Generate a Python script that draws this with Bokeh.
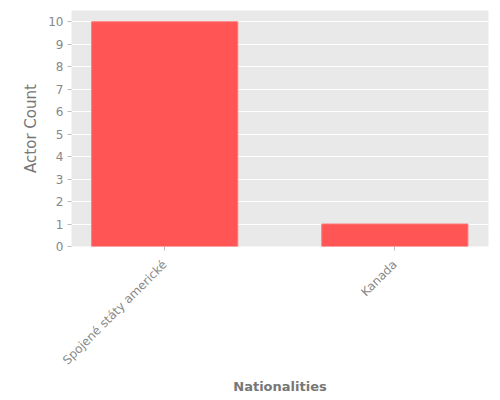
import math
from bokeh.plotting import figure
from bokeh.models import Range1d, FixedTicker
from bokeh.embed import file_html
from bokeh.resources import INLINE

nationalities = ["Spojené státy americké", "Kanada"]
actor_counts = [10, 1]

positions = list(range(len(nationalities)))

p = figure(width=492, height=397, output_backend="svg", toolbar_location=None,
           x_range=Range1d(-0.405, 1.407), y_range=Range1d(0, 10.5))
p.min_border_left = 71
p.min_border_right = 4
p.min_border_top = 10
p.min_border_bottom = 146
p.outline_line_color = None
p.background_fill_color = "#e9e9e9"
p.border_fill_color = "white"

p.vbar(x=positions, top=actor_counts, width=0.635, fill_color="#ff5555",
       line_color="#ff7777", line_width=1)

p.xaxis.ticker = FixedTicker(ticks=positions)
p.xaxis.major_label_overrides = {i: n for i, n in enumerate(nationalities)}
p.xaxis.major_label_orientation = math.pi / 4
p.yaxis.ticker = FixedTicker(ticks=list(range(0, 11)))

for ax in (p.xaxis[0], p.yaxis[0]):
    ax.axis_line_color = None
    ax.major_tick_line_color = "#bbbbbb"
    ax.major_tick_out = 4
    ax.major_tick_in = 0
    ax.minor_tick_line_color = None
    ax.major_label_text_color = "#888888"
    ax.major_label_text_font = "DejaVu Sans"
    ax.major_label_text_font_size = "12px"
    ax.axis_label_text_color = "#777777"
    ax.axis_label_text_font = "DejaVu Sans"

p.xaxis.major_label_standoff = 12
p.yaxis.major_label_standoff = 4
p.xaxis.axis_label = "Nationalities"
p.xaxis.axis_label_text_font_size = "13px"
p.xaxis.axis_label_text_font_style = "bold"
p.xaxis.axis_label_standoff = 4
p.yaxis.axis_label = "Actor Count"
p.yaxis.axis_label_text_font_size = "15px"
p.yaxis.axis_label_text_font_style = "normal"
p.yaxis.axis_label_standoff = 5

p.xgrid.grid_line_color = None
p.ygrid.grid_line_color = "white"
p.ygrid.grid_line_width = 1
p.ygrid.ticker = FixedTicker(ticks=list(range(0, 11)))

open("out.html", "w").write(file_html(p, INLINE))
